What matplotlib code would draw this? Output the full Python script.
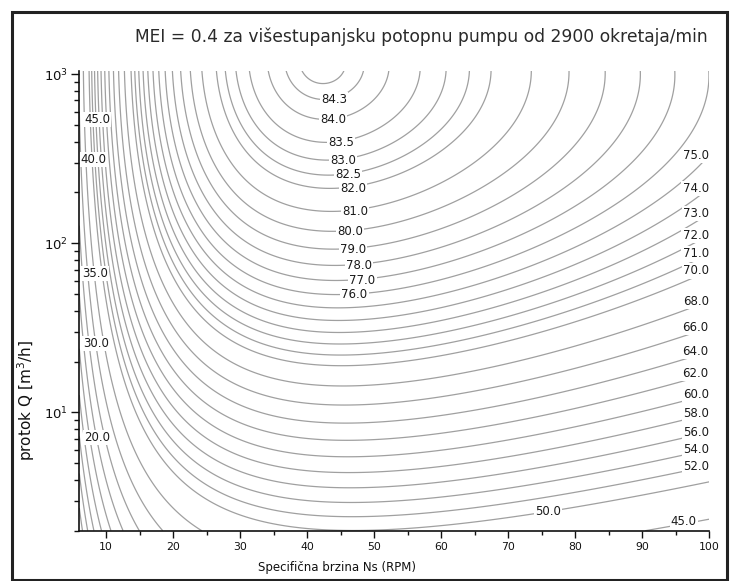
import numpy as np
import matplotlib
matplotlib.use("Agg")
import matplotlib.pyplot as plt
from matplotlib.patches import Rectangle
from matplotlib.ticker import FixedLocator, LogLocator, NullFormatter

# ---- data: MEI regression surface (EU 547/2012 form) for the chart ----
coef_x = 88.59      # x = ln(ns)
coef_y = 13.46      # y = ln(Q)
coef_xx = 11.48
coef_yy = 0.85
coef_xy = 0.38
c_value = 128.85    # constant read to fit the drawn contours

ns_range = [6, 100]
q_range = [2, 1050]

levels = [5, 10, 15, 20, 25, 30, 35, 40, 45, 50, 52, 54, 56, 58, 60, 62, 64,
          66, 68, 70, 71, 72, 73, 74, 75, 76, 77, 78, 79, 80, 81, 82, 82.5,
          83, 83.5, 84, 84.3, 84.45]

left_label_levels = [45, 40, 35, 30, 20]
left_label_q = [543, 315, 66, 25.6, 7.1]

mid_label_levels = [84.3, 84.0, 83.5, 83.0, 82.5, 82.0, 81.0, 80.0, 79.0, 78.0, 77.0, 76.0]
mid_label_ns = [42.1, 41.9, 43.1, 43.4, 44.2, 44.9, 45.2, 44.5, 44.9, 45.8, 46.3, 45.1]

right_label_levels = [75, 74, 73, 72, 71, 70, 68, 66, 64, 62, 60, 58, 56, 54, 52]

extra_label_levels = [50, 45]
extra_label_ns = [75.9, 98.1]
extra_label_ha = ['center', 'right']

xticks = [10, 20, 30, 40, 50, 60, 70, 80, 90, 100]

title = "MEI = 0.4 za višestupanjsku potopnu pumpu od 2900 okretaja/min"
xlabel = "Specifična brzina Ns (RPM)"
ylabel = "protok Q [m$^3$/h]"


def eff(ns, q):
    x = np.log(ns)
    y = np.log(q)
    return (coef_x * x + coef_y * y - coef_xx * x ** 2 - coef_yy * y ** 2
            - coef_xy * x * y - c_value)


def q_on_level(level, ns):
    x = np.log(ns)
    a = -coef_yy
    b = coef_y - coef_xy * x
    c = coef_x * x - coef_xx * x ** 2 - c_value - level
    disc = max(b * b - 4 * a * c, 0.0)
    y = (-b + np.sqrt(disc)) / (2 * a)
    return float(np.exp(y))


def ns_on_level(level, q):
    y = np.log(q)
    a = -coef_xx
    b = coef_x - coef_xy * y
    c = coef_y * y - coef_yy * y ** 2 - c_value - level
    disc = max(b * b - 4 * a * c, 0.0)
    x = (-b + np.sqrt(disc)) / (2 * a)
    return float(np.exp(x))


W, H = 732, 581
fig = plt.figure(figsize=(W / 100, H / 100), dpi=100)
fig.patch.set_facecolor("white")

ax_l, ax_r, ax_t, ax_b = 79.3, 709.3, 70.7, 530.7
ax = fig.add_axes([ax_l / W, 1 - ax_b / H, (ax_r - ax_l) / W, (ax_b - ax_t) / H])

ns_grid = np.linspace(ns_range[0], ns_range[1], 700)
q_grid = np.logspace(np.log10(q_range[0]), np.log10(q_range[1]), 700)
NS, Q = np.meshgrid(ns_grid, q_grid)
Z = eff(NS, Q)

ax.contour(NS, Q, Z, levels=levels, colors="#a0a0a0", linewidths=0.9, zorder=1)

ax.set_yscale("log")
ax.set_xlim(ns_range)
ax.set_ylim(q_range)

lab_kw = dict(fontsize=8.5, color="#1a1a1a", zorder=5,
              bbox=dict(facecolor="white", edgecolor="none", pad=0.8))

for lev, q in zip(left_label_levels, left_label_q):
    ax.text(ns_on_level(lev, q), q, f"{lev:.1f}", ha="left", va="center", **lab_kw)

for lev, ns in zip(mid_label_levels, mid_label_ns):
    ax.text(ns, q_on_level(lev, ns), f"{lev:.1f}", ha="left", va="center", **lab_kw)

for lev in right_label_levels:
    ax.text(99.9, q_on_level(lev, 99.9), f"{lev:.1f}", ha="right", va="center", **lab_kw)

for lev, ns, ha in zip(extra_label_levels, extra_label_ns, extra_label_ha):
    ax.text(ns, q_on_level(lev, ns), f"{lev:.1f}", ha=ha, va="center", **lab_kw)

for s in ["top", "right"]:
    ax.spines[s].set_visible(False)
for s in ["left", "bottom"]:
    ax.spines[s].set_linewidth(1.2)
    ax.spines[s].set_color("#111111")

ax.xaxis.set_major_locator(FixedLocator(xticks))
ax.xaxis.set_minor_locator(FixedLocator([t - 5 for t in xticks]))
ax.yaxis.set_major_locator(LogLocator(base=10))
ax.yaxis.set_minor_locator(LogLocator(base=10, subs=np.arange(2, 10)))
ax.yaxis.set_minor_formatter(NullFormatter())

ax.tick_params(axis="x", which="major", direction="out", length=5, width=1,
               labelsize=7.8, pad=3, colors="#111111")
ax.tick_params(axis="x", which="minor", direction="out", length=3, width=1,
               colors="#111111")
ax.tick_params(axis="y", which="major", direction="out", length=6, width=1,
               labelsize=9.5, pad=2, colors="#111111")
ax.tick_params(axis="y", which="minor", direction="out", length=3.5, width=1,
               colors="#111111")

ax.set_xlabel(xlabel, fontsize=8.5, color="#111111")
ax.xaxis.set_label_coords((337 - ax_l) / (ax_r - ax_l), (ax_b - 561) / (ax_b - ax_t))
ax.set_ylabel(ylabel, fontsize=11, color="#111111")
ax.yaxis.set_label_coords((37 - ax_l) / (ax_r - ax_l), (ax_b - 401) / (ax_b - ax_t))

fig.text(708 / W, 1 - 37 / H, title, ha="right", va="center", fontsize=12.3,
         color="#2a2a2a")

fig.patches.append(Rectangle((12 / W, 1 - 580 / H), (726.5 - 12) / W, (580 - 12) / H,
                             transform=fig.transFigure, fill=False,
                             edgecolor="#222222", linewidth=2.2))

fig.savefig("out.png", dpi=100, facecolor="white")
